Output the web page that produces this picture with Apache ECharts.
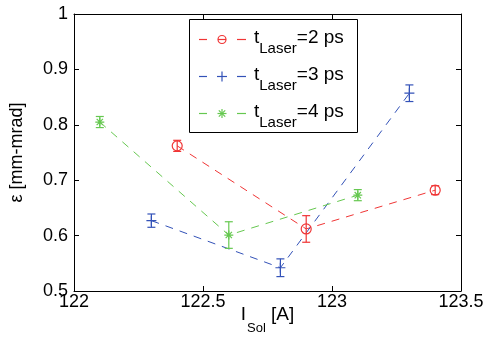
<!DOCTYPE html>
<html><head><meta charset="utf-8">
<script src="https://cdn.jsdelivr.net/npm/echarts@6/dist/echarts.min.js"></script>
<style>html,body{margin:0;padding:0;background:#fff}#c{width:491px;height:348px}</style>
</head><body><div id="c"></div>
<script>
// Data
const seriesNames = ['2 ps', '3 ps', '4 ps'];
const x2 = [122.4, 122.9, 123.4];
const y2 = [0.762, 0.612, 0.682];
const e2 = [0.010, 0.024, 0.008];
const x3 = [122.3, 122.8, 123.3];
const y3 = [0.627, 0.542, 0.857];
const e3 = [0.012, 0.016, 0.015];
const x4 = [122.1, 122.6, 123.1];
const y4 = [0.805, 0.601, 0.673];
const e4 = [0.010, 0.024, 0.010];
const xTicks = [122, 122.5, 123, 123.5];
const yTicks = [0.5, 0.6, 0.7, 0.8, 0.9, 1];

const colors = ['#f03535', '#3352b8', '#66c850'];
const symbols = [
  'path://M0,5A5,5 0 1,1 10,5A5,5 0 1,1 0,5Z',
  'path://M0,5L10,5M5,0L5,10',
  'path://M0,5L10,5M5,0L5,10M1.5,1.5L8.5,8.5M8.5,1.5L1.5,8.5'
];
const symSizes = [10, 10, 9];
const FONT = 'Liberation Sans, Arial, sans-serif';

function pts(xs, ys) { return xs.map((x, i) => [x, ys[i]]); }
function errs(xs, ys, es) { return xs.map((x, i) => [x, ys[i] - es[i], ys[i] + es[i]]); }

const sets = [[x2, y2, e2], [x3, y3, e3], [x4, y4, e4]];
const series = [];
sets.forEach((s, k) => {
  series.push({
    name: seriesNames[k], type: 'line', data: pts(s[0], s[1]),
    symbol: symbols[k], symbolSize: symSizes[k], z: 3,
    lineStyle: { color: colors[k], width: 1, type: [8, 7] },
    itemStyle: { color: 'rgba(0,0,0,0)', borderColor: colors[k], borderWidth: 1.2 },
    animation: false
  });
  series.push({
    type: 'custom', data: errs(s[0], s[1], s[2]), z: 4, animation: false,
    renderItem: function (params, api) {
      const lo = api.coord([api.value(0), api.value(1)]);
      const hi = api.coord([api.value(0), api.value(2)]);
      const w = 4;
      const st = { stroke: colors[k], lineWidth: 1.2, fill: null };
      return { type: 'group', children: [
        { type: 'line', shape: { x1: lo[0], y1: lo[1], x2: hi[0], y2: hi[1] }, style: st },
        { type: 'line', shape: { x1: lo[0] - w, y1: lo[1], x2: lo[0] + w, y2: lo[1] }, style: st },
        { type: 'line', shape: { x1: hi[0] - w, y1: hi[1], x2: hi[0] + w, y2: hi[1] }, style: st }
      ]};
    }
  });
});

// text measuring for the legend labels
const mctx = document.createElement('canvas').getContext('2d');
function tw(str, size) { mctx.font = size + 'px ' + FONT; return mctx.measureText(str).width; }

// Legend drawn as graphic elements (box, dashed key, marker, label)
const LX = 189, LY = 19, LW = 168, LH = 113, ROW = 37;
const MAIN = 19, SUB = 15;
const legendEls = [{ type: 'rect', shape: { x: LX + 0.5, y: LY + 0.5, width: LW, height: LH },
  style: { fill: '#fff', stroke: '#000', lineWidth: 1 }, z: 100 }];
seriesNames.forEach((n, i) => {
  const cy = LY + 20 + ROW * i + 0.5;
  const c = colors[i];
  const st = { stroke: c, lineWidth: 1.2, fill: null };
  const L = (x1, y1, x2, y2) => ({ type: 'line', shape: { x1, y1, x2, y2 }, style: st, z: 101 });
  legendEls.push(L(LX + 10, cy, LX + 18, cy), L(LX + 48, cy, LX + 57, cy));
  const mx = LX + 33;
  if (i === 0) {
    legendEls.push({ type: 'circle', shape: { cx: mx, cy: cy, r: 4 }, style: st, z: 101 }, L(mx - 4, cy, mx + 4, cy));
  } else if (i === 1) {
    legendEls.push(L(mx - 5, cy, mx + 5, cy), L(mx, cy - 5, mx, cy + 5));
  } else {
    legendEls.push(L(mx - 4.5, cy, mx + 4.5, cy), L(mx, cy - 4.5, mx, cy + 4.5),
      L(mx - 3.2, cy - 3.2, mx + 3.2, cy + 3.2), L(mx + 3.2, cy - 3.2, mx - 3.2, cy + 3.2));
  }
  const x0 = LX + 65;
  const w1 = tw('t', MAIN), w2 = tw('Laser', SUB);
  const T = (x, y, text, size) => ({ type: 'text', z: 101, style: {
    x, y, text, fontSize: size, fontFamily: FONT, fill: '#000', verticalAlign: 'middle', align: 'left' } });
  legendEls.push(T(x0, cy - 2, 't', MAIN), T(x0 + w1, cy + 9, 'Laser', SUB), T(x0 + w1 + w2, cy - 2, '=' + n, MAIN));
});

const axisCommon = {
  axisLine: { show: true, lineStyle: { color: '#000', width: 1 } },
  axisTick: { show: true, inside: true, length: 5, lineStyle: { color: '#000' } },
  splitLine: { show: false }
};

const chart = echarts.init(document.getElementById('c'));
chart.setOption({
  animation: false,
  backgroundColor: '#fff',
  grid: { left: 74, right: 30, top: 14, bottom: 57, outerBoundsMode: 'none', containLabel: false },
  xAxis: [
    Object.assign({ type: 'value', min: xTicks[0], max: xTicks[xTicks.length - 1], interval: 0.5, position: 'bottom',
      axisLabel: { color: '#000', fontSize: 18, fontFamily: FONT, margin: 2 },
      name: '{a|I}{b|Sol}{a| [A]}', nameLocation: 'middle', nameGap: 4, nameMoveOverlap: false,
      nameTextStyle: { verticalAlign: 'top', rich: {
        a: { fontSize: 19, fontFamily: FONT, color: '#000', lineHeight: 40, verticalAlign: 'middle' },
        b: { fontSize: 13, fontFamily: FONT, color: '#000', lineHeight: 6, verticalAlign: 'bottom', padding: [0, 0, 0, 1] } } }
    }, axisCommon),
    Object.assign({ type: 'value', min: xTicks[0], max: xTicks[xTicks.length - 1], interval: 0.5, position: 'top',
      axisLabel: { show: false } }, axisCommon)
  ],
  yAxis: [
    Object.assign({ type: 'value', min: yTicks[0], max: yTicks[yTicks.length - 1], interval: 0.1, position: 'left',
      axisLabel: { color: '#000', fontSize: 18, fontFamily: FONT, margin: 6,
        formatter: v => String(Math.round(v * 10) / 10) },
      name: 'ε [mm-mrad]', nameLocation: 'middle', nameGap: 48, nameMoveOverlap: false,
      nameTextStyle: { fontSize: 18, fontFamily: FONT, color: '#000' }
    }, axisCommon),
    Object.assign({ type: 'value', min: yTicks[0], max: yTicks[yTicks.length - 1], interval: 0.1, position: 'right',
      axisLabel: { show: false } }, axisCommon)
  ],
  graphic: legendEls,
  series: series
});
</script></body></html>
